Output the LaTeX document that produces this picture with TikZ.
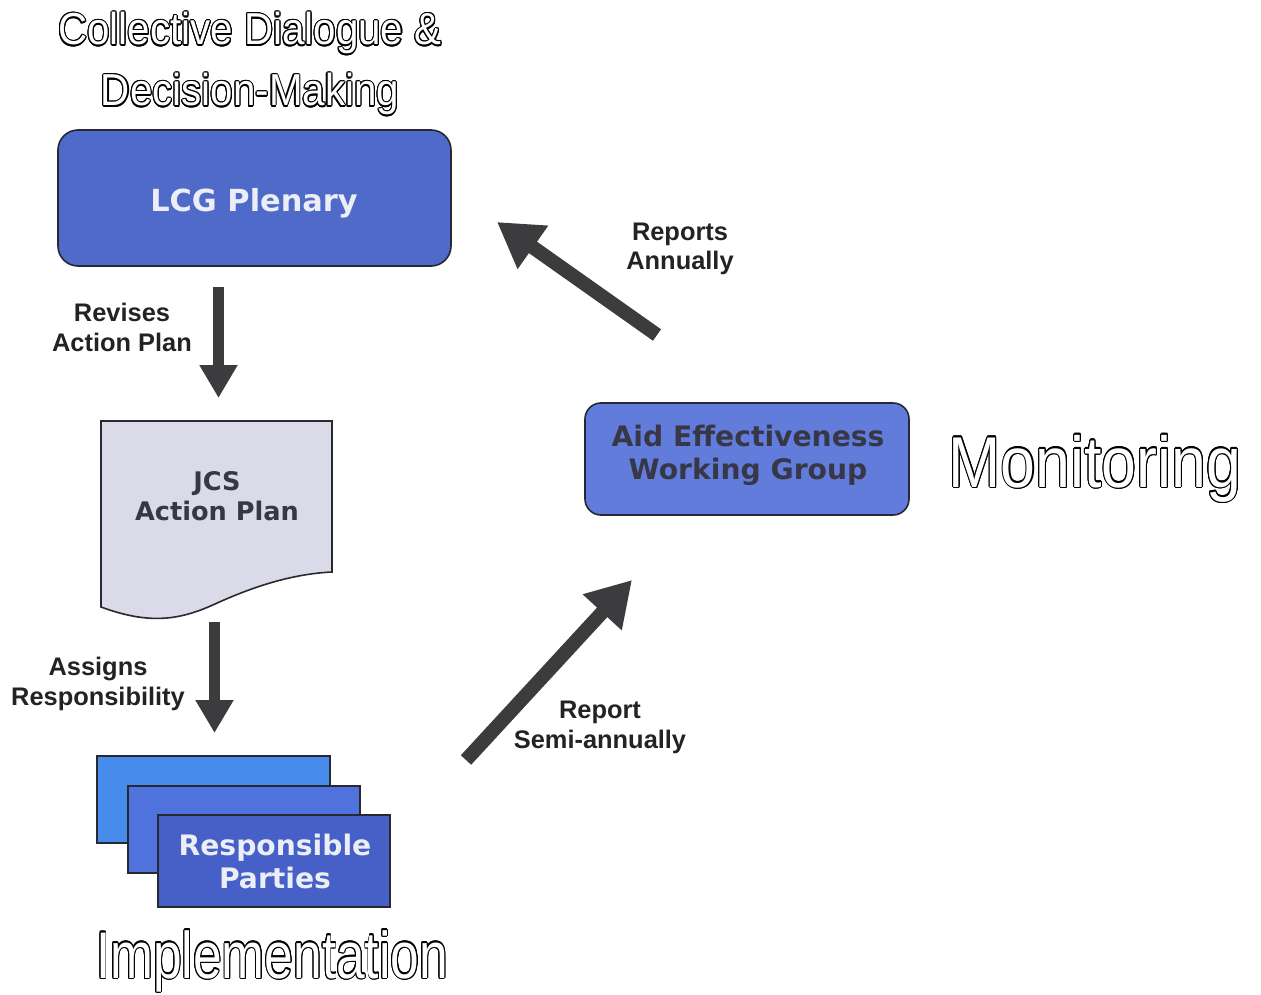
\documentclass[tikz,border=0pt]{standalone}
\usepackage{fontspec}
\setmainfont{Liberation Sans}
\newfontfamily\verd{DejaVu Sans}
\usepackage{contour}
\contourlength{0.6pt}
\usetikzlibrary{arrows.meta}
\definecolor{lcgc}{RGB}{80,106,202}
\definecolor{aewc}{RGB}{98,124,220}
\definecolor{rp1}{RGB}{72,140,235}
\definecolor{rp2}{RGB}{80,114,220}
\definecolor{rp3}{RGB}{70,96,200}
\definecolor{docc}{RGB}{218,218,232}
\definecolor{boxtxt}{RGB}{236,238,246}
\definecolor{darktxt}{RGB}{55,55,70}
\definecolor{arrc}{RGB}{60,60,62}
\definecolor{edgec}{RGB}{40,40,50}
\definecolor{lblc}{RGB}{35,35,35}
\begin{document}
\begin{tikzpicture}[x=0.5pt,y=-0.5pt,
  box/.style={draw=edgec, line width=0.8pt, inner sep=0pt},
  btxt/.style={align=center, anchor=base, inner sep=0pt},
  lbl/.style={font=\bfseries\fontsize{12.7}{14.8}\selectfont, text=lblc, align=center, anchor=base, inner sep=0pt},
  big/.style={text=white, anchor=base, inner sep=0pt},
  vblk/.style={draw=arrc, line width=5.5pt, -{Triangle[length=16.5pt,width=18pt]}},
  dblk/.style={draw=arrc, line width=7pt, -{Triangle[length=22pt,width=25pt]}}
]
\useasboundingbox[fill=white] (0,0) rectangle (1261,994);

% titles
\node[big] (t1) at (250,45) {\scalebox{0.9}[1]{\fontsize{22.4}{30}\selectfont\contour{black}{Collective Dialogue \&}}};
\node[big] (t2) at (250,106) {\scalebox{0.9}[1]{\fontsize{22.4}{30}\selectfont\contour{black}{Decision-Making}}};
\node[big] (mon) at (1095,487) {\scalebox{0.87}[1]{\fontsize{36}{40}\selectfont\contour{black}{Monitoring}}};
\node[big] (imp) at (272,978) {\scalebox{0.78}[1]{\fontsize{33}{38}\selectfont\contour{black}{Implementation}}};

% LCG plenary
\node[box, fill=lcgc, rounded corners=10pt, minimum width=196.5pt, minimum height=68pt] (lcg) at (254.5,198) {};
\node[btxt, font=\verd\bfseries\fontsize{15.2}{18}\selectfont, text=boxtxt] (lcgt) at (254,212) {LCG Plenary};

% JCS action plan document
\draw[fill=docc, draw=edgec, line width=0.8pt]
  (101,421) -- (332,421) -- (332,572)
  .. controls (290,574) and (250,588) .. (215,604)
  .. controls (180,620) and (150,625) .. (101,607) -- cycle;
\node[btxt, font=\verd\bfseries\fontsize{12.8}{15}\selectfont, text=darktxt] (jcs) at (217,520) {JCS\\Action Plan};

% Aid effectiveness WG
\node[box, fill=aewc, rounded corners=8pt, minimum width=162pt, minimum height=56pt] (aew) at (747,459) {};
\node[btxt, font=\verd\bfseries\fontsize{14.1}{16.5}\selectfont, text=darktxt] (aewt) at (748,479) {Aid Effectiveness\\Working Group};

% Responsible parties (stack)
\node[box, fill=rp1, minimum width=116.5pt, minimum height=43.5pt] (rpa) at (213.5,799.5) {};
\node[box, fill=rp2, minimum width=116pt, minimum height=43.5pt] (rpb) at (244,829.5) {};
\node[box, fill=rp3, minimum width=116pt, minimum height=46pt] (rpc) at (274,861) {};
\node[btxt, font=\verd\bfseries\fontsize{14.1}{16.5}\selectfont, text=boxtxt] (rpt) at (275,888) {Responsible\\Parties};

% arrows
\coordinate (a1s) at (218.5,287);
\coordinate (a1e) at (218.5,398);
\coordinate (a2s) at (214.5,622);
\coordinate (a2e) at (214.5,733);
\coordinate (a3s) at (657,335);
\coordinate (a3e) at (497,222);
\coordinate (a4s) at (466,760);
\coordinate (a4e) at (632,580);
\draw[vblk] (a1s) -- (a1e);
\draw[vblk] (a2s) -- (a2e);
\draw[dblk] (a3s) -- (a3e);
\draw[dblk] (a4s) -- (a4e);

% labels
\node[lbl] (l1) at (122,351) {Revises\\Action Plan};
\node[lbl] (l2) at (98,705) {Assigns\\Responsibility};
\node[lbl] (l3) at (680,270) {Reports\\Annually};
\node[lbl] (l4) at (600,748) {Report\\Semi-annually};
\end{tikzpicture}
\end{document}
